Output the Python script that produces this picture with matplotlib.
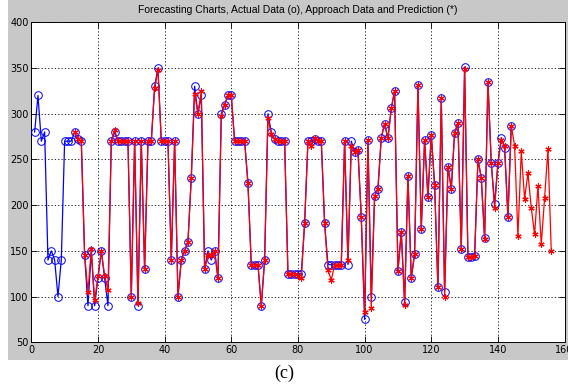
import matplotlib
matplotlib.use("Agg")
import matplotlib.pyplot as plt
from matplotlib.patches import Rectangle

# Actual data (blue circles), x = 1..144
actual = [280, 320, 270, 280, 140, 150, 140, 100, 140, 270,
          270, 270, 280, 272, 270, 145, 90, 150, 90, 120,
          150, 120, 90, 270, 280, 270, 270, 270, 270, 100,
          270, 90, 270, 130, 270, 270, 330, 350, 270, 270,
          270, 140, 270, 100, 140, 150, 160, 230, 330, 300,
          320, 130, 150, 140, 150, 120, 300, 310, 320, 320,
          270, 270, 270, 270, 224, 135, 135, 135, 90, 140,
          300, 280, 272, 270, 270, 270, 125, 125, 125, 125,
          125, 180, 270, 270, 272, 270, 270, 180, 135, 135,
          135, 135, 135, 270, 135, 270, 258, 260, 187, 75,
          271, 100, 210, 218, 274, 289, 273, 306, 325, 128,
          171, 94, 232, 120, 147, 331, 174, 271, 209, 277,
          222, 110, 317, 105, 242, 218, 279, 290, 152, 351,
          143, 143, 144, 250, 230, 164, 335, 246, 201, 246,
          274, 262, 187, 287]
actual_start = 1

# Approach data and prediction (red stars), x = 13..156
approach = [280, 272, 270, 146, 105, 152, 96, 122, 150, 123,
            107, 270, 282, 270, 270, 270, 270, 100, 270, 93,
            270, 130, 270, 270, 328, 348, 270, 270, 270, 140,
            270, 100, 140, 150, 160, 230, 322, 300, 325, 130,
            145, 145, 150, 120, 297, 310, 320, 320, 270, 270,
            270, 270, 224, 135, 135, 135, 90, 140, 295, 278,
            272, 270, 270, 270, 125, 125, 125, 122, 120, 180,
            270, 265, 273, 270, 270, 180, 129, 118, 135, 135,
            135, 270, 140, 265, 258, 260, 187, 83, 271, 88,
            210, 218, 274, 289, 273, 306, 325, 128, 171, 91,
            232, 120, 147, 331, 174, 271, 209, 277, 222, 110,
            317, 100, 242, 218, 279, 290, 152, 349, 143, 143,
            144, 250, 230, 163, 335, 246, 197, 246, 271, 265,
            187, 287, 265, 166, 259, 207, 235, 197, 168, 221,
            157, 208, 261, 150]
approach_start = 13

x_ticks = [0, 20, 40, 60, 80, 100, 120, 140, 160]
y_ticks = [50, 100, 150, 200, 250, 300, 350, 400]
title = "Forecasting Charts, Actual Data (o), Approach Data and Prediction (*)"
caption = "(c)"

W, H = 568, 387
fig = plt.figure(figsize=(W / 100, H / 100), dpi=100, facecolor="white")
fig.patches.append(Rectangle((8 / W, 1 - 360 / H), 1 - 8 / W, 360 / H,
                             transform=fig.transFigure, facecolor="#c8c8c8",
                             edgecolor="none", zorder=-10))

ax = fig.add_axes([31.3 / W, 1 - 342.3 / H, 533.3 / W, 320 / H])
ax.set_zorder(1)
ax.set_facecolor("white")

xa = list(range(actual_start, actual_start + len(actual)))
xp = list(range(approach_start, approach_start + len(approach)))

ax.plot(xa, actual, color="blue", lw=0.9, marker="o", ms=5.5,
        mfc="none", mec="blue", mew=0.7, zorder=3)
ax.plot(xp, approach, color="red", lw=0.9, marker=(6, 2, 0), ms=4.5,
        mec="red", mew=0.8, zorder=4)

ax.set_xlim(0, 160)
ax.set_ylim(50, 400)
ax.set_xticks(x_ticks)
ax.set_yticks(y_ticks)
ax.tick_params(direction="in", length=4, labelsize=7, width=0.6,
               top=True, right=True, pad=2)
ax.grid(True, color="black", linestyle=(0, (1.5, 2.5)), linewidth=0.6)
for s in ax.spines.values():
    s.set_linewidth(0.7)
    s.set_color("black")

fig.text((31.3 + 564.6) / 2 / W, 1 - 10 / H, title, ha="center", va="center",
         fontsize=7.5, family="Liberation Sans")
fig.text(284 / W, 1 - 373 / H, caption, ha="center", va="center",
         fontsize=13, family="Liberation Serif")

fig.savefig("out.png", dpi=100, facecolor="white")
